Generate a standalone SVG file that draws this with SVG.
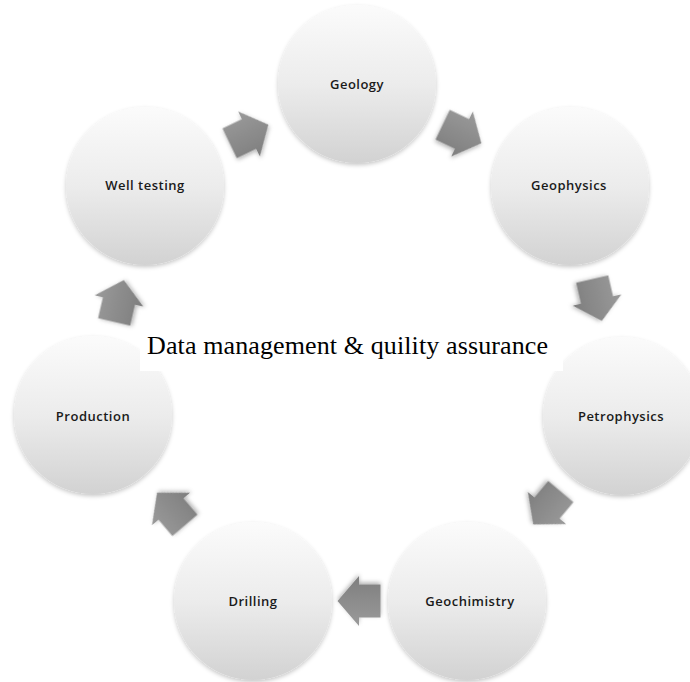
<svg xmlns="http://www.w3.org/2000/svg" width="690" height="682" viewBox="0 0 690 682">
  <defs>
    <linearGradient id="disc" x1="0" y1="0" x2="0" y2="1">
      <stop offset="0" stop-color="#fbfbfb"/>
      <stop offset="0.5" stop-color="#ececec"/>
      <stop offset="1" stop-color="#d2d2d2"/>
    </linearGradient>
    <linearGradient id="arrowFill" x1="0" y1="0" x2="0" y2="1">
      <stop offset="0" stop-color="#9a9a9a"/>
      <stop offset="1" stop-color="#7e7e7e"/>
    </linearGradient>
    <filter id="soft" x="-20%" y="-20%" width="140%" height="140%">
      <feDropShadow dx="0" dy="2" stdDeviation="2" flood-color="#000" flood-opacity="0.22"/>
    </filter>
    <filter id="arrowShadow" x="-30%" y="-30%" width="160%" height="160%">
      <feGaussianBlur in="SourceGraphic" stdDeviation="0.6" result="b"/>
      <feDropShadow in="b" dx="0" dy="2" stdDeviation="2" flood-color="#000" flood-opacity="0.3"/>
    </filter>
    <!-- block arrow pointing along +x, centred on the origin -->
    <polygon id="blockArrow" points="-21.5,-16.5 0,-16.5 0,-25 21.5,0 0,25 0,16.5 -21.5,16.5"/>
  </defs>
  <style>
    .disc { fill: url(#disc); filter: url(#soft); }
    .label { font-family: "Open Sans", "Liberation Sans", sans-serif; font-size: 13px; font-weight: 600; fill: #1a1a1a; text-anchor: middle; letter-spacing: 0.5px; }
    .arrow { fill: url(#arrowFill); filter: url(#arrowShadow); }
    .title { font-family: "Liberation Serif", "Times New Roman", serif; font-size: 26px; fill: #000; }
  </style>

  <rect width="690" height="682" fill="#ffffff"/>

  <g id="connectors">
    <use href="#blockArrow" class="arrow" transform="translate(249,134) rotate(-25.7)"/>
    <use href="#blockArrow" class="arrow" transform="translate(462,134) rotate(25.6)"/>
    <use href="#blockArrow" class="arrow" transform="translate(597,300) rotate(77)"/>
    <use href="#blockArrow" class="arrow" transform="translate(547,508) rotate(130)"/>
    <use href="#blockArrow" class="arrow" transform="translate(359,601) rotate(180)"/>
    <use href="#blockArrow" class="arrow" transform="translate(171,509) rotate(229.5)"/>
    <use href="#blockArrow" class="arrow" transform="translate(119,301) rotate(-77)"/>
  </g>

  <g id="geology">
    <circle class="disc" cx="357" cy="84" r="79"/>
    <text class="label" x="357" y="89">Geology</text>
  </g>
  <g id="geophysics">
    <circle class="disc" cx="570" cy="186" r="79"/>
    <text class="label" x="569" y="190">Geophysics</text>
  </g>
  <g id="petrophysics">
    <circle class="disc" cx="622" cy="416" r="79"/>
    <text class="label" x="621" y="421">Petrophysics</text>
  </g>
  <g id="geochimistry">
    <circle class="disc" cx="467" cy="601" r="79"/>
    <text class="label" x="470" y="606">Geochimistry</text>
  </g>
  <g id="drilling">
    <circle class="disc" cx="253" cy="601" r="79"/>
    <text class="label" x="253" y="606">Drilling</text>
  </g>
  <g id="production">
    <circle class="disc" cx="93" cy="415" r="79"/>
    <text class="label" x="93" y="421">Production</text>
  </g>
  <g id="well-testing">
    <circle class="disc" cx="145" cy="186" r="79"/>
    <text class="label" x="145" y="190">Well testing</text>
  </g>

  <g id="caption">
    <rect x="140" y="334" width="423" height="37" fill="#ffffff"/>
    <text class="title" x="147" y="354" textLength="401" lengthAdjust="spacing">Data management &amp; quility assurance</text>
  </g>
</svg>
